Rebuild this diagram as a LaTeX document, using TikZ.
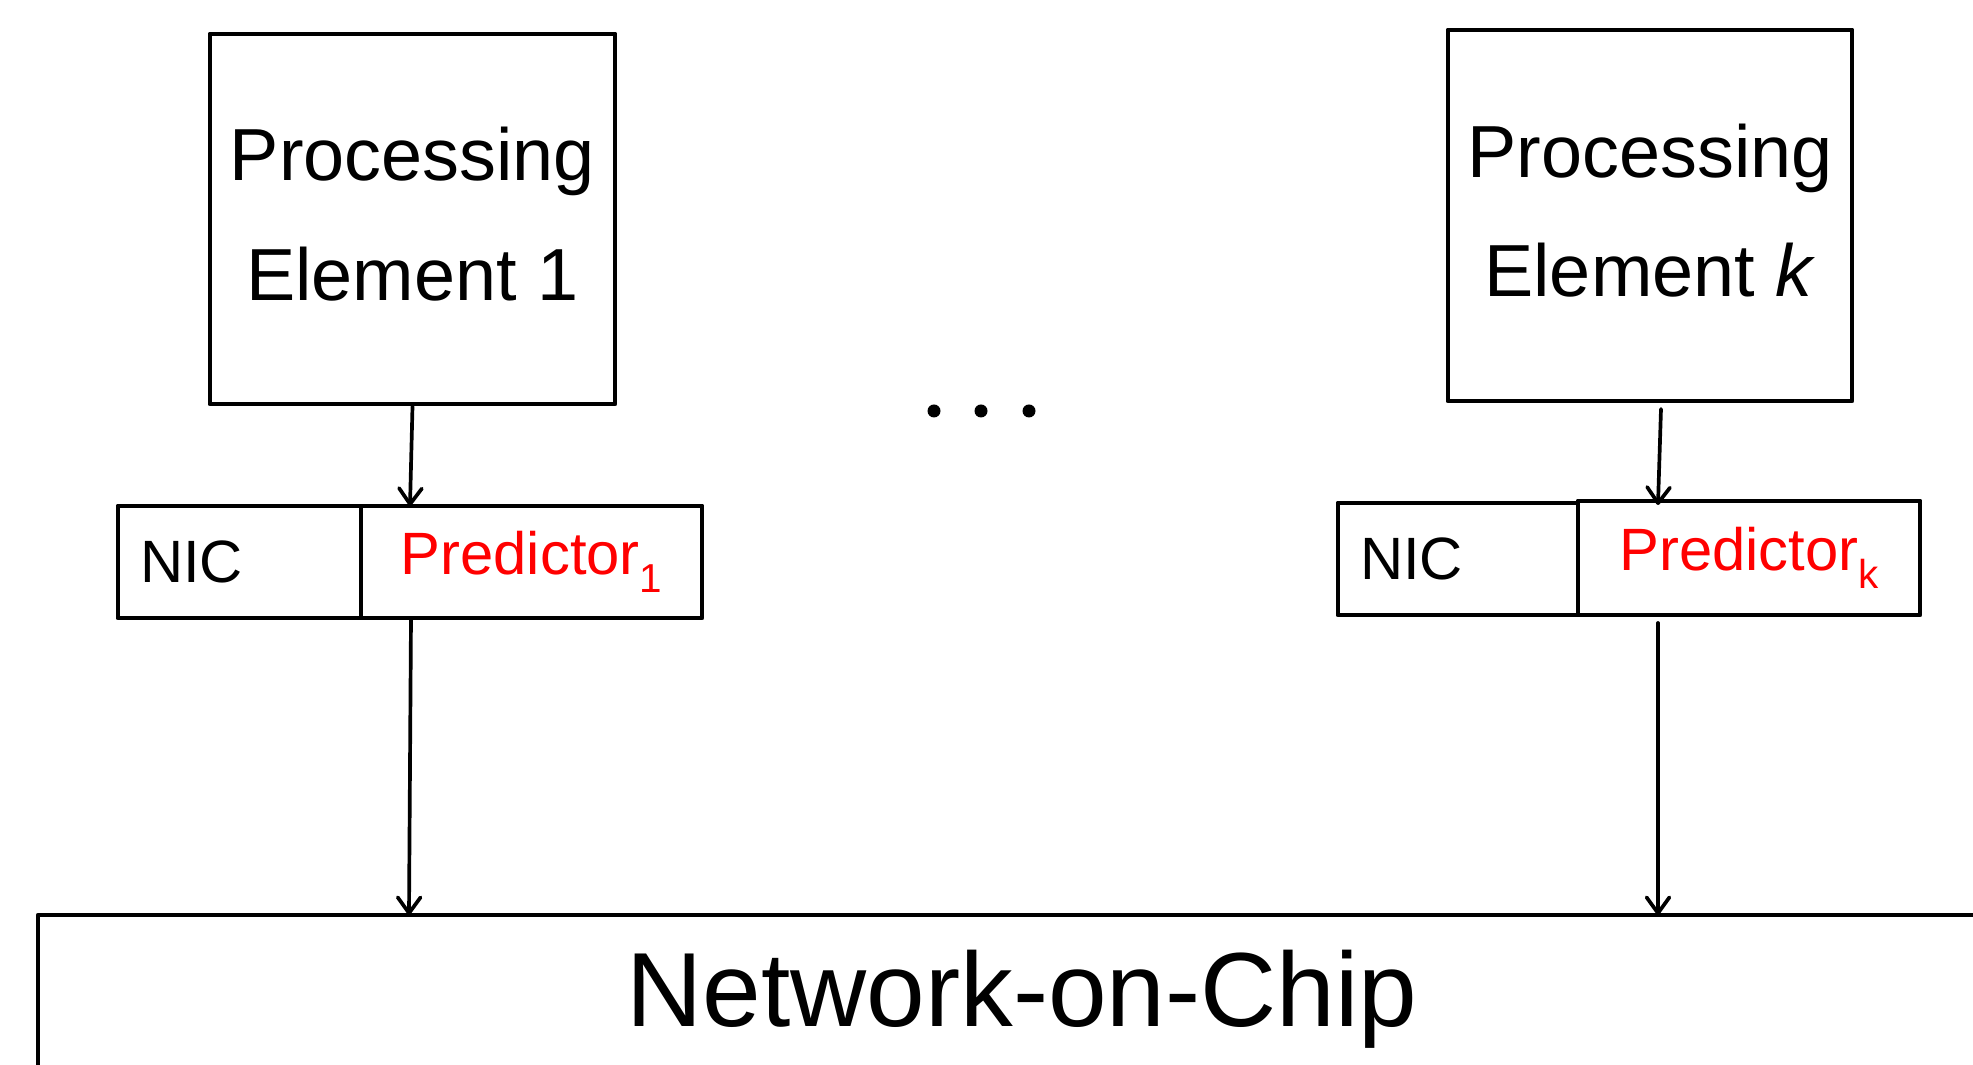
\documentclass[tikz,border=0pt]{standalone}
\usepackage{fontspec}
\setmainfont{Liberation Sans}
\usetikzlibrary{arrows.meta}
\newcommand{\predsub}[1]{\raisebox{-5pt}{\fontsize{11.5}{12}\selectfont #1}}
\begin{document}
\begin{tikzpicture}[x=1cm,y=1cm,line cap=round,line join=round,
  pebox/.style={draw,line width=1.4pt,minimum width=4.05cm,minimum height=3.70cm,
    inner sep=0pt,text depth=0.1cm,align=center,font=\fontsize{21}{34}\selectfont},
  nicbox/.style={draw,line width=1.4pt,minimum height=1.12cm,text width=1.99cm,
    inner xsep=0.22cm,align=left,font=\fontsize{17}{20}\selectfont},
  predbox/.style={draw,line width=1.4pt,minimum height=1.12cm,minimum width=3.41cm,
    inner sep=0pt,text=red,font=\fontsize{17}{20}\selectfont},
  tolink/.style={line width=1.05pt,-{Straight Barb[length=4.5pt,width=6.5pt,round]}}]
  \useasboundingbox (0,0) rectangle (19.73,10.65);
  % network-on-chip, cut off at the right and the bottom
  \node[draw,line width=1.3pt,minimum width=19.68cm,minimum height=1.69cm,inner sep=0pt,
    font=\fontsize{30}{36}\selectfont] (noc) at (10.22,0.655) {Network-on-Chip};
  % processing elements
  \node[pebox] (pe1) at (4.125,8.46) {Processing\\Element 1};
  \node[pebox,minimum width=4.04cm,minimum height=3.71cm] (pek) at (16.50,8.495) {Processing\\Element \textit{k}};
  % interfaces
  \node[nicbox] (nic1) at (2.395,5.03) {NIC};
  \node[predbox] (pred1) at (5.315,5.03) {Predictor\predsub{1}};
  \node[nicbox,text width=1.96cm] (nick) at (14.58,5.06) {NIC};
  \node[predbox,minimum width=3.42cm,minimum height=1.14cm] (predk) at (17.49,5.07) {Predictor\predsub{k}};
  \coordinate (pred1in) at (4.10,5.59);
  \coordinate (pred1out) at (4.11,4.47);
  \coordinate (noc1in) at (4.09,1.50);
  \coordinate (pekout) at (16.61,6.56);
  \coordinate (predkin) at (16.58,5.60);
  \coordinate (predkout) at (16.58,4.42);
  \coordinate (nockin) at (16.58,1.50);
  \draw[tolink] (pe1.south) -- (pred1in);
  \draw[tolink] (pred1out) -- (noc1in);
  \draw[tolink] (pekout) -- (predkin);
  \draw[tolink] (predkout) -- (nockin);
  % dots between the elements
  \foreach \x in {9.34,9.81,10.29}
    \fill (\x,6.54) circle (0.065);
\end{tikzpicture}
\end{document}
